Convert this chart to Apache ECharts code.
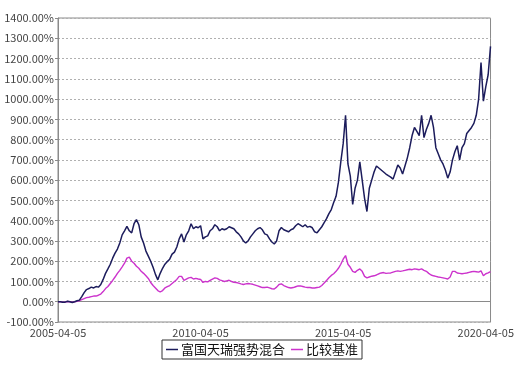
<!DOCTYPE html>
<html>
<head>
<meta charset="utf-8">
<script src="https://cdn.jsdelivr.net/npm/echarts@6/dist/echarts.min.js"></script>
<style>
html,body{margin:0;padding:0;background:#fff;}
#chart{width:517px;height:366px;}
</style>
</head>
<body>
<div id="chart"></div>
<script>
// Series names
const seriesNames = ['富国天瑞强势混合', '比较基准'];
// Tick labels shown on the x axis
const xTickLabels = ['2005-04-05', '2010-04-05', '2015-04-05', '2020-04-05'];
// Monthly observation dates (5th of each month, 2005-04 .. 2020-06)
const startYear = 2005, startMonth = 4, monthCount = 183;
const dates = [];
for (let i = 0; i < monthCount; i++) {
  const t = startMonth - 1 + i;
  const y = startYear + Math.floor(t / 12);
  const m = (t % 12) + 1;
  dates.push(y + '-' + String(m).padStart(2, '0') + '-05');
}
// Fund cumulative return (%)
const fundValues = [
  0,0,-3,-2,2,0,-4,0,5,8,
  25,45,60,65,72,68,75,72,85,110,
  140,162,185,215,240,260,290,330,350,372,
  350,340,385,405,380,320,290,250,225,200,
  170,135,108,140,165,185,198,210,235,245,270,
  310,335,295,330,350,385,360,370,365,375,
  310,320,325,350,360,380,370,350,360,355,
  360,370,365,360,345,335,320,300,290,300,
  320,335,350,360,366,355,335,330,310,295,
  285,300,350,366,355,350,345,355,360,375,
  385,378,370,380,368,372,365,345,340,355,
  370,390,410,435,455,490,520,590,690,780,
  920,680,620,480,560,600,690,600,510,445,
  560,600,640,670,660,650,640,630,622,615,605,
  640,675,660,630,670,710,760,820,860,840,
  820,920,810,850,880,920,860,760,730,700,
  680,650,610,640,700,740,770,700,760,780,
  830,845,860,880,920,1000,1180,990,1060,1120,
  1260
];
// Benchmark cumulative return (%)
const benchValues = [
  0,0,-2,-1,1,0,-2,0,2,5,
  10,15,20,22,25,28,28,32,38,50,
  65,75,90,105,122,140,155,172,190,215,
  220,200,190,175,165,150,140,128,115,95,
  80,68,55,48,55,68,74,80,90,100,110,
  125,125,105,112,118,120,112,115,112,110,
  95,100,98,105,112,118,115,108,104,100,
  103,106,100,96,95,92,88,85,88,90,
  88,86,82,78,74,70,70,72,68,64,
  63,72,85,88,80,75,70,68,70,74,
  78,78,75,72,70,70,68,68,70,72,
  80,92,105,118,130,138,150,165,185,210,
  228,185,170,150,145,155,162,150,125,118,
  122,126,128,132,138,142,144,140,141,142,146,
  150,152,150,152,155,158,160,158,162,160,
  158,162,155,150,140,132,128,125,122,120,
  118,115,112,122,150,150,142,140,138,140,
  142,145,148,150,148,146,152,128,138,142,
  149
];
// Y axis range
const yMin = -100, yMax = 1400, yStep = 100;

const font = '"Noto Sans CJK SC", SimSun, sans-serif';
const chart = echarts.init(document.getElementById('chart'), null, {renderer: 'canvas'});
chart.setOption({
  animation: false,
  backgroundColor: '#ffffff',
  grid: {left: 58, right: 26, top: 18, bottom: 44, show: true, borderColor: '#8a8a8a', borderWidth: 1},
  legend: {
    data: seriesNames,
    left: 162, top: 340,
    padding: [3, 4, 3, 4],
    borderColor: '#333', borderWidth: 1,
    itemGap: 6, itemWidth: 12, itemHeight: 1.5, icon: 'rect',
    textStyle: {fontFamily: font, fontSize: 13, color: '#111', padding: [0, 0, 0, -2]}
  },
  xAxis: {
    type: 'category', data: dates, boundaryGap: false,
    axisLine: {lineStyle: {color: '#8a8a8a'}},
    axisTick: {show: false},
    axisLabel: {
      interval: (idx, val) => xTickLabels.indexOf(val) >= 0,
      color: '#444', fontFamily: font, fontSize: 11, margin: 5
    },
    splitLine: {show: false}
  },
  yAxis: {
    type: 'value', min: yMin, max: yMax, interval: yStep,
    axisLine: {show: true, lineStyle: {color: '#8a8a8a'}},
    axisTick: {show: true, length: 3, lineStyle: {color: '#8a8a8a'}},
    axisLabel: {formatter: v => v.toFixed(2) + '%', color: '#444', fontFamily: font, fontSize: 11, margin: 4},
    splitLine: {show: true, lineStyle: {color: '#b0b0b0', type: [2, 2], width: 1}}
  },
  series: [
    {name: seriesNames[0], type: 'line', data: fundValues, symbol: 'none', z: 3,
     lineStyle: {color: '#1c1c5c', width: 1.5}, itemStyle: {color: '#1c1c5c'}},
    {name: seriesNames[1], type: 'line', data: benchValues, symbol: 'none', z: 2,
     lineStyle: {color: '#cc33cc', width: 1.4}, itemStyle: {color: '#cc33cc'}}
  ]
});
</script>
</body>
</html>
